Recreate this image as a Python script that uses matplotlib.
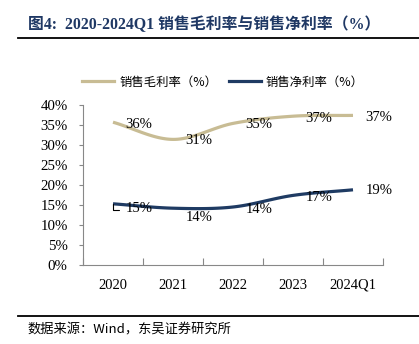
import matplotlib.pyplot as plt
import numpy as np
from matplotlib.lines import Line2D

# data
periods = ['2020', '2021', '2022', '2023', '2024Q1']
gross_margin = [35.7, 31.4, 35.4, 37.2, 37.4]   # 销售毛利率 (%)
net_margin = [15.3, 14.2, 14.5, 17.4, 18.8]     # 销售净利率 (%)
gross_labels = ['36%', '31%', '35%', '37%', '37%']
net_labels = ['15%', '14%', '14%', '17%', '19%']

# label nudges in points (style, not data)
gross_dy = [-1.5, -0.5, -1.0, -1.5, -1.2]
net_dy = [-3.5, -6.5, -2.0, -1.5, -0.5]

GOLD = '#C8BC94'
NAVY = '#1F3B63'
TITLE_C = '#1F3864'
SERIF = ['Liberation Serif', 'Noto Sans CJK SC']
CJK = ['Noto Sans CJK SC', 'Liberation Serif']


def smooth(y, n=30):
    # catmull-rom style smoothing like office charts
    y = np.asarray(y, dtype=float)
    p = np.concatenate([[2 * y[0] - y[1]], y, [2 * y[-1] - y[-2]]])
    xs, ys = [], []
    for i in range(len(y) - 1):
        p0, p1, p2, p3 = p[i], p[i + 1], p[i + 2], p[i + 3]
        t = np.linspace(0, 1, n, endpoint=False)
        v = 0.5 * ((2 * p1) + (-p0 + p2) * t + (2 * p0 - 5 * p1 + 4 * p2 - p3) * t ** 2
                   + (-p0 + 3 * p1 - 3 * p2 + p3) * t ** 3)
        xs.append(i + t)
        ys.append(v)
    xs.append([len(y) - 1])
    ys.append([y[-1]])
    return np.concatenate(xs), np.concatenate(ys)


fig = plt.figure(figsize=(4.19, 3.44), dpi=100)
ax = fig.add_axes([83 / 419, 1 - 265 / 344, 300 / 419, 160 / 344])

x = np.arange(len(periods))
for vals, color in [(gross_margin, GOLD), (net_margin, NAVY)]:
    sx, sy = smooth(vals)
    ax.plot(sx, sy, color=color, lw=2.3, solid_capstyle='butt')

for vals, labels, dys in [(gross_margin, gross_labels, gross_dy), (net_margin, net_labels, net_dy)]:
    for xi, v, lab, dy in zip(x, vals, labels, dys):
        ax.annotate(lab, (xi, v), xytext=(9, dy), textcoords='offset points',
                    ha='left', va='center', fontsize=10.5, family=SERIF, color='black')

# small leader mark next to the first net label
ax.annotate('', (0, net_margin[0]), xytext=(4, -4.5), textcoords='offset points',
            arrowprops=dict(arrowstyle='-', color='black', lw=0.8,
                            connectionstyle='angle,angleA=0,angleB=90,rad=0',
                            shrinkA=0, shrinkB=0))

ax.set_xlim(-0.5, len(periods) - 0.5)
ax.set_ylim(0, 40)
ax.set_yticks(range(0, 41, 5))
ax.set_yticklabels([f'{t}%' for t in range(0, 41, 5)], family=SERIF, fontsize=10.7)
ax.tick_params(axis='y', direction='out', length=3, color='#888888', pad=8)

ax.set_xticks(np.arange(-0.5, len(periods), 1.0))
ax.set_xticklabels([])
ax.tick_params(axis='x', which='major', direction='in', length=5, color='#888888')
ax.set_xticks(x, minor=True)
ax.set_xticklabels(periods, minor=True, family=SERIF, fontsize=10.5)
ax.tick_params(axis='x', which='minor', length=0, pad=10)

for side in ['top', 'right']:
    ax.spines[side].set_visible(False)
for side in ['left', 'bottom']:
    ax.spines[side].set_color('#888888')
    ax.spines[side].set_linewidth(0.8)

handles = [Line2D([], [], color=GOLD, lw=2.3), Line2D([], [], color=NAVY, lw=2.3)]
fig.legend(handles, ['销售毛利率（%）', '销售净利率（%）'], loc='center',
           bbox_to_anchor=(223 / 419, 1 - 82 / 344), ncol=2, frameon=False,
           prop={'family': CJK, 'size': 8.9}, handlelength=2.6, handletextpad=0.4,
           columnspacing=0.9)

fig.text(28 / 419, 1 - 25 / 344, '图4:  2020-2024Q1 销售毛利率与销售净利率（%）',
         ha='left', va='center', fontsize=11.4, fontweight='bold', color=TITLE_C, family=SERIF)
fig.add_artist(Line2D([18 / 419, 1.0], [1 - 38 / 344] * 2, color='black', lw=1.3))
fig.add_artist(Line2D([18 / 419, 1.0], [1 - 316 / 344] * 2, color='black', lw=1.3))
fig.text(27 / 419, 1 - 330 / 344, '数据来源：Wind，东吴证券研究所', ha='left', va='center',
         fontsize=9.5, family=CJK, color='black')

fig.savefig('out.png', dpi=100)
